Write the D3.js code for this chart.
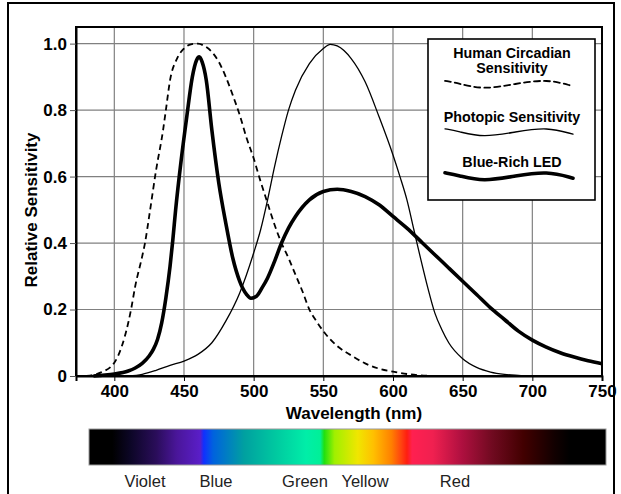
<!DOCTYPE html>
<html>
<head>
<meta charset="utf-8">
<script src="https://cdn.jsdelivr.net/npm/d3@7"></script>
<style>
  html, body { margin: 0; padding: 0; background: #fff; }
  svg { display: block; font-family: "Liberation Sans", Arial, Helvetica, sans-serif; }
</style>
</head>
<body>
<svg id="chart" width="621" height="494"></svg>
<script>
"use strict";

// Wavelengths (nm) and relative sensitivity.
const circadianNm = [380, 390, 400, 405, 410, 412, 415, 420, 422, 425, 430, 435, 437, 440, 445, 450, 455, 460, 465, 470, 475, 480, 485, 490, 495, 500, 505, 510, 515, 520, 525, 530, 535, 540, 545, 550, 555, 560, 570, 580, 590, 600, 610, 620, 630];
const circadianVal = [0, 0.01, 0.04, 0.085, 0.16, 0.2, 0.27, 0.36, 0.4, 0.48, 0.62, 0.74, 0.8, 0.89, 0.955, 0.985, 0.998, 1.0, 0.992, 0.975, 0.945, 0.9, 0.845, 0.785, 0.715, 0.655, 0.585, 0.52, 0.455, 0.4, 0.355, 0.305, 0.255, 0.2, 0.165, 0.135, 0.11, 0.09, 0.062, 0.038, 0.022, 0.013, 0.006, 0.002, 0];

const photopicNm = [410, 420, 430, 440, 450, 460, 470, 480, 490, 500, 505, 510, 515, 520, 525, 530, 540, 550, 555, 560, 570, 580, 590, 600, 605, 610, 615, 620, 625, 630, 635, 640, 650, 660, 670, 680, 690, 700];
const photopicVal = [0, 0.005, 0.017, 0.032, 0.045, 0.065, 0.1, 0.165, 0.25, 0.37, 0.44, 0.53, 0.63, 0.72, 0.8, 0.86, 0.94, 0.985, 0.998, 0.993, 0.955, 0.885, 0.78, 0.665, 0.6, 0.53, 0.44, 0.35, 0.265, 0.19, 0.14, 0.1, 0.052, 0.026, 0.012, 0.005, 0.002, 0];

const ledNm = [385, 390, 400, 410, 415, 420, 425, 428, 431, 434, 437, 440, 442, 444, 448, 452, 456, 459, 461, 463, 466, 470, 475, 480, 485, 490, 495, 498, 502, 506, 510, 515, 520, 525, 530, 540, 550, 560, 570, 580, 590, 600, 610, 620, 630, 640, 650, 660, 670, 680, 690, 700, 710, 720, 730, 740, 750];
const ledVal = [0, 0.002, 0.006, 0.015, 0.024, 0.038, 0.06, 0.08, 0.11, 0.16, 0.235, 0.33, 0.41, 0.5, 0.65, 0.78, 0.9, 0.95, 0.96, 0.945, 0.89, 0.74, 0.58, 0.46, 0.355, 0.285, 0.245, 0.234, 0.24, 0.265, 0.295, 0.345, 0.4, 0.445, 0.48, 0.53, 0.555, 0.562, 0.555, 0.54, 0.515, 0.48, 0.445, 0.405, 0.365, 0.325, 0.285, 0.245, 0.205, 0.17, 0.135, 0.108, 0.087, 0.07, 0.057, 0.046, 0.037];

const xTicks = [400, 450, 500, 550, 600, 650, 700, 750];
const yTicks = [0, 0.2, 0.4, 0.6, 0.8, 1.0];
const yTickLabels = ["0", "0.2", "0.4", "0.6", "0.8", "1.0"];

const legendNames = ["Human Circadian\nSensitivity", "Photopic Sensitivity", "Blue-Rich LED"];

// Colour bar under the axis, and its labels.
const spectrumOffsets = [0, 0.045, 0.08, 0.13, 0.17, 0.215, 0.222, 0.24, 0.3, 0.36, 0.42, 0.447, 0.455, 0.475, 0.52, 0.55, 0.585, 0.605, 0.615, 0.625, 0.665, 0.72, 0.78, 0.84, 0.9, 0.93, 1];
const spectrumColors = ["#000000", "#000000", "#0c0626", "#2a0d5a", "#4a169a", "#5a1ec8", "#1030ff", "#0062de", "#00a0a0", "#00c8a0", "#00eea8", "#00f098", "#20e010", "#a0f000", "#f0e600", "#ffc000", "#ff8000", "#ff4010", "#ff1e10", "#ff2050", "#f02050", "#b01040", "#700a20", "#420000", "#120000", "#000000", "#000000"];
const spectrumLabels = ["Violet", "Blue", "Green", "Yellow", "Red"];
const spectrumLabelX = [145, 216, 305, 365, 455];

const svg = d3.select("#chart");

// outer frame
svg.append("rect")
  .attr("x", 8).attr("y", 3).attr("width", 606).attr("height", 500)
  .attr("fill", "none").attr("stroke", "#000").attr("stroke-width", 2);

const plotLeft = 76, plotRight = 602, plotTop = 27, plotBottom = 376;

const x = d3.scaleLinear().domain([372.5, 750]).range([plotLeft, plotRight]);
const y = d3.scaleLinear().domain([0, 1.05]).range([plotBottom, plotTop]);

// grid
const grid = svg.append("g").attr("stroke", "#808080").attr("stroke-width", 1.2);
grid.selectAll("line.v").data(xTicks).enter().append("line")
  .attr("x1", d => x(d)).attr("x2", d => x(d))
  .attr("y1", plotTop).attr("y2", plotBottom);
grid.selectAll("line.h").data(yTicks.slice(1)).enter().append("line")
  .attr("x1", plotLeft).attr("x2", plotRight)
  .attr("y1", d => y(d)).attr("y2", d => y(d));

// curves
const line = d3.line()
  .x(d => x(d[0]))
  .y(d => y(d[1]))
  .curve(d3.curveMonotoneX);

const plot = svg.append("g");
plot.append("path")
  .datum(d3.zip(photopicNm, photopicVal))
  .attr("d", line)
  .attr("fill", "none").attr("stroke", "#000").attr("stroke-width", 1.3);
plot.append("path")
  .datum(d3.zip(circadianNm, circadianVal))
  .attr("d", line)
  .attr("fill", "none").attr("stroke", "#000").attr("stroke-width", 1.8)
  .attr("stroke-dasharray", "6,4");
plot.append("path")
  .datum(d3.zip(ledNm, ledVal))
  .attr("d", line)
  .attr("fill", "none").attr("stroke", "#000").attr("stroke-width", 3.6)
  .attr("stroke-linejoin", "round");

// plot border
svg.append("rect")
  .attr("x", plotLeft).attr("y", plotTop)
  .attr("width", plotRight - plotLeft).attr("height", plotBottom - plotTop)
  .attr("fill", "none").attr("stroke", "#000").attr("stroke-width", 2);

// axes
const xAxis = d3.axisBottom(x).tickValues(xTicks).tickSize(5).tickSizeOuter(5).tickPadding(4);
const gx = svg.append("g").attr("transform", `translate(0,${plotBottom})`).call(xAxis);
gx.select(".domain").attr("stroke-width", 2);
gx.selectAll("text").attr("font-size", 17).attr("font-weight", "bold").attr("fill", "#000")
  .attr("font-family", "Liberation Sans, Arial, sans-serif");

const yAxis = d3.axisLeft(y).tickValues(yTicks).tickSize(6).tickSizeOuter(0).tickPadding(3)
  .tickFormat((d, i) => yTickLabels[i]);
const gy = svg.append("g").attr("transform", `translate(${plotLeft},0)`).call(yAxis);
gy.select(".domain").attr("stroke-width", 2);
gy.selectAll("text").attr("font-size", 17).attr("font-weight", "bold").attr("fill", "#000")
  .attr("font-family", "Liberation Sans, Arial, sans-serif");
gy.selectAll(".tick line").attr("stroke", "#555");

// axis titles
svg.append("text")
  .attr("x", 354).attr("y", 419)
  .attr("text-anchor", "middle")
  .attr("font-size", 17).attr("font-weight", "bold")
  .text("Wavelength (nm)");
svg.append("text")
  .attr("transform", "translate(37,210) rotate(-90)")
  .attr("text-anchor", "middle")
  .attr("font-size", 17).attr("font-weight", "bold")
  .text("Relative Sensitivity");

// legend
const lg = svg.append("g");
lg.append("rect")
  .attr("x", 428).attr("y", 39).attr("width", 167).attr("height", 161)
  .attr("fill", "#fff").attr("stroke", "#000").attr("stroke-width", 1.6);

const legendTextY = [[58, 73], [122], [167]];
legendNames.forEach((name, i) => {
  name.split("\n").forEach((part, j) => {
    lg.append("text")
      .attr("x", 512).attr("y", legendTextY[i][j])
      .attr("text-anchor", "middle")
      .attr("font-size", 14.3).attr("font-weight", "bold")
      .text(part);
  });
});

// legend swatches: one wave, shifted per entry
const wave = [[0, 0.15], [0.1, 0.35], [0.3, 0.9], [0.55, 0.4], [0.8, 0.0], [1, 0.6]];
const wx = d3.scaleLinear().domain([0, 1]).range([445, 573]);
const wy = d3.scaleLinear().domain([0, 1]).range([0, 12]);
const waveLine = off => d3.line().x(d => wx(d[0])).y(d => off + wy(d[1])).curve(d3.curveBasis);
const swatchY = [79, 127, 171];
const swatchStyle = [
  { w: 1.8, dash: "6,4" },
  { w: 1.3, dash: null },
  { w: 3.6, dash: null }
];
swatchY.forEach((off, i) => {
  lg.append("path")
    .datum(wave)
    .attr("d", waveLine(off))
    .attr("fill", "none").attr("stroke", "#000")
    .attr("stroke-width", swatchStyle[i].w)
    .attr("stroke-dasharray", swatchStyle[i].dash)
    .attr("stroke-linecap", "round");
});

// spectrum bar
const defs = svg.append("defs");
const grad = defs.append("linearGradient").attr("id", "spectrum")
  .attr("x1", "0%").attr("x2", "100%").attr("y1", "0%").attr("y2", "0%");
grad.selectAll("stop").data(d3.zip(spectrumOffsets, spectrumColors)).enter().append("stop")
  .attr("offset", d => d[0])
  .attr("stop-color", d => d[1]);

svg.append("rect")
  .attr("x", 89).attr("y", 429).attr("width", 517).attr("height", 36)
  .attr("fill", "url(#spectrum)")
  .attr("stroke", "#999").attr("stroke-width", 1);

svg.selectAll("text.spec").data(spectrumLabels).enter().append("text")
  .attr("class", "spec")
  .attr("x", (d, i) => spectrumLabelX[i]).attr("y", 487)
  .attr("text-anchor", "middle")
  .attr("font-size", 16.5).attr("fill", "#222")
  .text(d => d);
</script>
</body>
</html>
